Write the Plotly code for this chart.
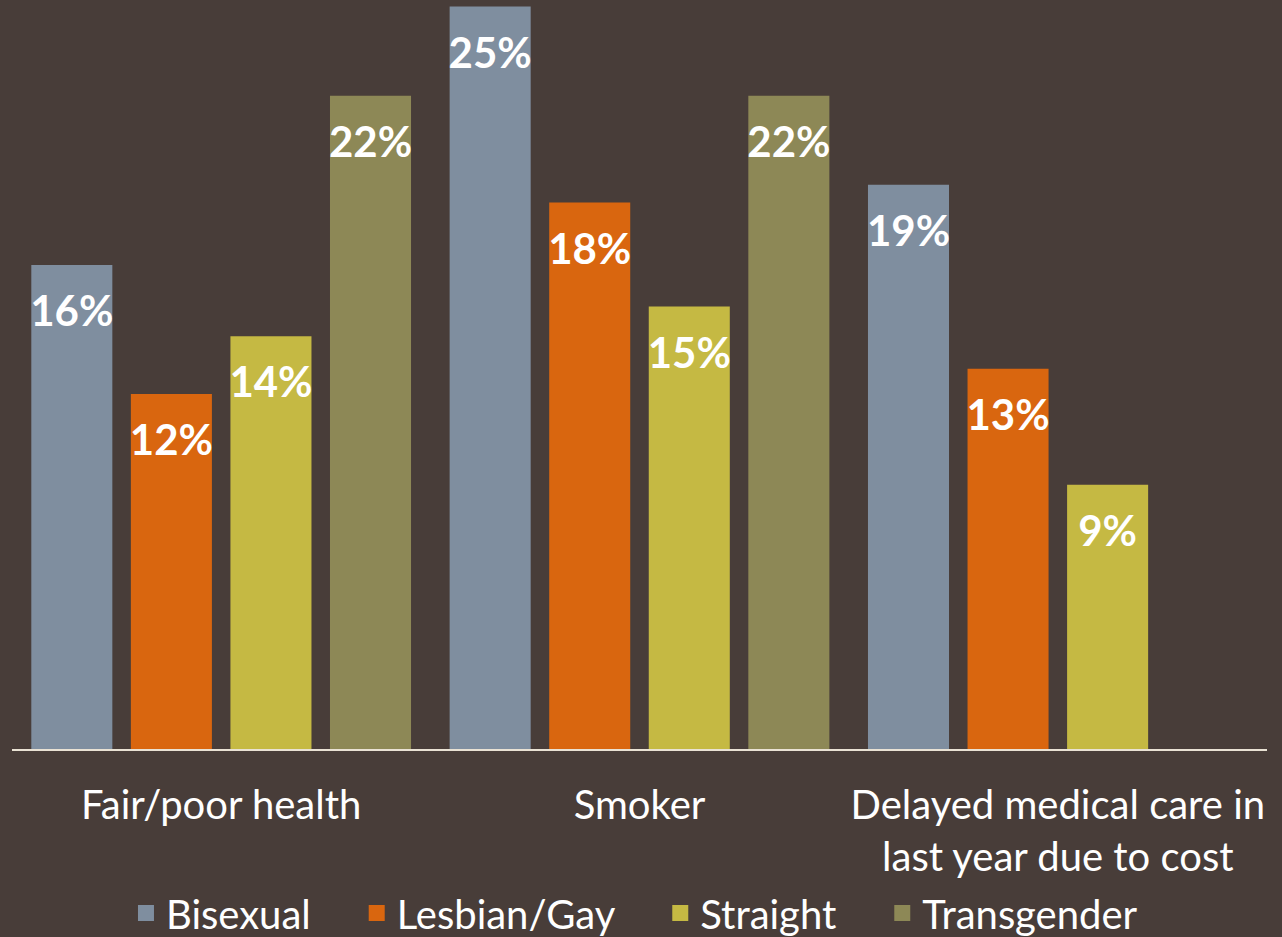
import plotly.graph_objects as go

categories = ["Fair/poor health", "Smoker", "Delayed medical care in<br>last year due to cost"]
series_names = ["Bisexual", "Lesbian/Gay", "Straight", "Transgender"]
bisexual = [16.3, 25.0, 19.0]
lesbian_gay = [11.95, 18.4, 12.8]
straight = [13.9, 14.9, 8.9]
transgender = [22.0, 22.0, None]
series_values = [bisexual, lesbian_gay, straight, transgender]

colors = ["#7f8e9f", "#d9660f", "#c5b943", "#8d8856"]
BG = "#483d39"
FONT = "Lato"
PAD = "\u00a0" * 4

fig = go.Figure()
for i, (name, vals, col) in enumerate(zip(series_names, series_values, colors)):
    fig.add_trace(go.Bar(
        x=categories, y=vals, name=name, marker=dict(color=col, line=dict(width=0)),
        offsetgroup=str(i), showlegend=False, hoverinfo="skip",
    ))
for i, (name, vals, col) in enumerate(zip(series_names, series_values, colors)):
    fig.add_trace(go.Scatter(
        x=categories, y=vals, mode="markers+text",
        text=[(f"{v:.0f}%" if v is not None else "") for v in vals],
        textposition="bottom center",
        textfont=dict(family=FONT, size=42, color="white", weight="bold"),
        marker=dict(size=46, color="rgba(0,0,0,0)"),
        offsetgroup=str(i), showlegend=False, hoverinfo="skip", cliponaxis=False,
    ))
for j, (name, col) in enumerate(zip(series_names, colors)):
    fig.add_trace(go.Scatter(
        x=[None], y=[None], mode="markers",
        name=name + (PAD if j < len(series_names) - 1 else ""),
        marker=dict(symbol="square", size=16, color=col),
    ))

fig.update_layout(
    width=1282, height=937,
    paper_bgcolor=BG, plot_bgcolor=BG,
    margin=dict(l=12, r=15, t=0, b=188, pad=0, autoexpand=False),
    barmode="group", bargap=0.048, bargroupgap=0.186,
    scattermode="group", scattergap=0.048,
    font=dict(family=FONT, color="white"),
    showlegend=True,
    legend=dict(orientation="h", x=0.496, xanchor="center", y=-0.219, yanchor="middle",
                font=dict(family=FONT, size=40, color="white"), itemsizing="trace",
                bgcolor="rgba(0,0,0,0)", traceorder="normal"),
    xaxis=dict(showline=True, linecolor="#e9e2d4", linewidth=2, showgrid=False,
               ticks="outside", ticklen=20, tickcolor="rgba(0,0,0,0)",
               tickfont=dict(family=FONT, size=40, color="white"), fixedrange=True,
               automargin=False),
    yaxis=dict(range=[0, 25.22], visible=False, showgrid=False, zeroline=False, fixedrange=True,
               automargin=False),
)

fig.write_html("out.html", config={"displayModeBar": False},
               post_script="document.body.style.margin='0';")
